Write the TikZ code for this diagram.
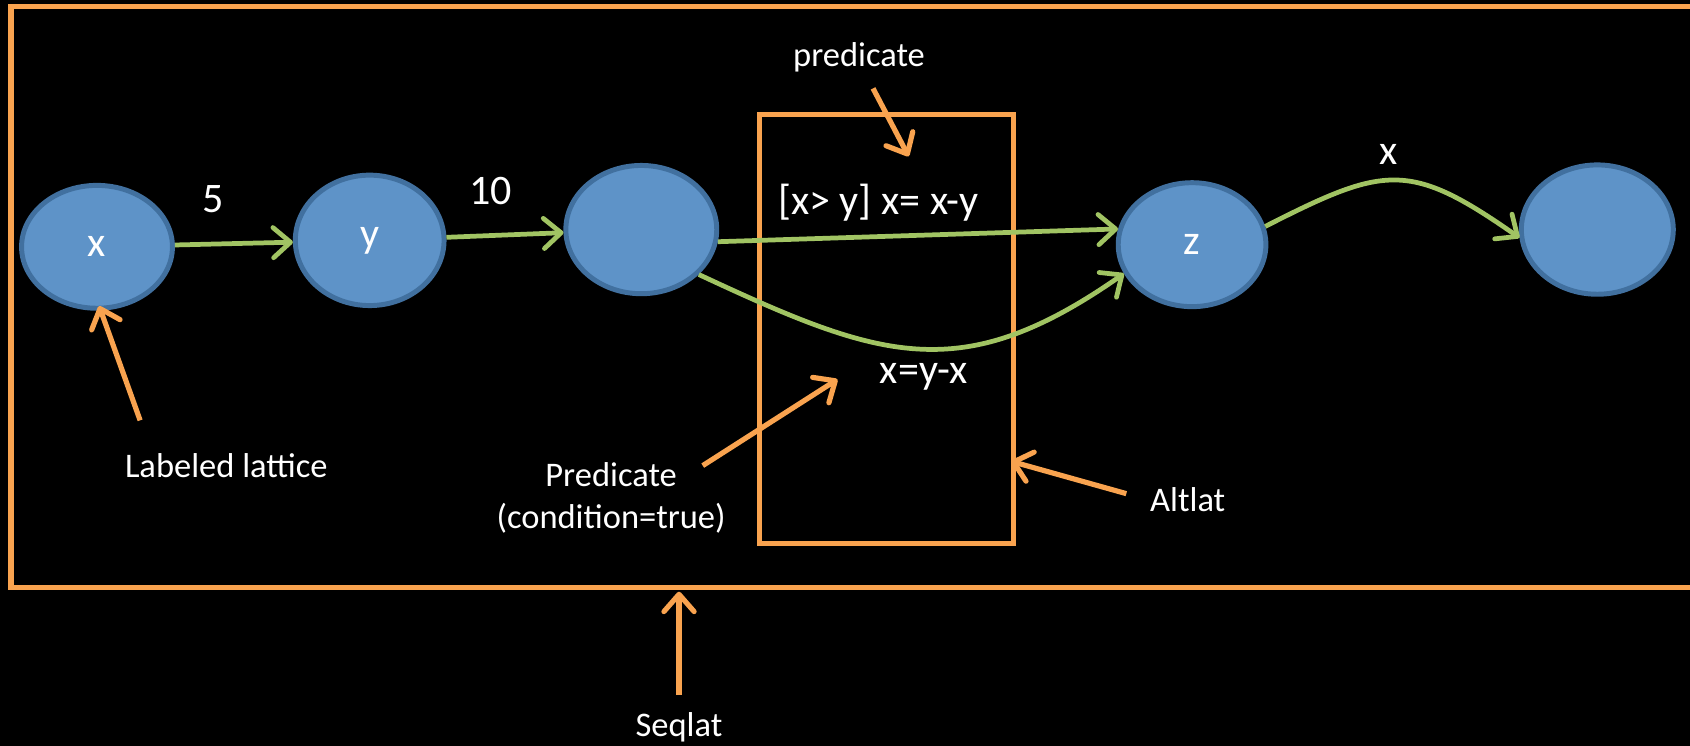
\documentclass[tikz,border=0pt]{standalone}
\usepackage{fontspec}
\setmainfont{Carlito}
\usetikzlibrary{shapes.geometric,arrows.meta}
\definecolor{orng}{HTML}{F9A34F}
\definecolor{grn}{HTML}{A1C463}
\definecolor{bfill}{HTML}{5E93C8}
\definecolor{bline}{HTML}{41709F}
\tikzset{
  lat/.style={ellipse, fill=bfill, draw=bline, line width=2.3pt, minimum width=70pt, minimum height=59pt, inner sep=0pt, text=white, font=\fontsize{19.5}{23}\selectfont},
  big/.style={text=white, font=\fontsize{19.5}{23}\selectfont, inner sep=0pt},
  small/.style={text=white, font=\fontsize{16}{19.5}\selectfont, inner sep=0pt, align=center},
  flow/.style={draw=grn, line width=2.2pt, -{Straight Barb[length=8pt,width=14pt,line cap=round,line join=round]}},
  note/.style={draw=orng, line width=2.4pt, -{Straight Barb[length=8pt,width=14pt,line cap=round,line join=round]}},
  frame/.style={draw=orng, line width=2.6pt},
}
\begin{document}
\begin{tikzpicture}[x=0.5pt,y=-0.5pt]
\fill[black] (0,0) rectangle (1568,692);
\useasboundingbox (0,0) rectangle (1568,692);
\clip (0,0) rectangle (1568,692);

% outer frame (Seqlat)
\draw[frame] (10,6) rectangle (1610,545);
% inner box (Altlat)
\node[draw=orng, line width=2.2pt, minimum width=117.5pt, minimum height=199pt, inner sep=0pt] (alt) at (822.5,305) {};

% lattice nodes
\node[lat, minimum height=57pt] (x) at (90,229) {x};
\node[lat, minimum width=69pt, minimum height=60.5pt] (y) at (343,223) {y};
\node[lat, minimum height=59.5pt] (n3) at (595,213) {};
\node[lat, minimum width=68.5pt, minimum height=57.5pt] (z) at (1106,227) {z};
\node[lat, minimum width=70.5pt, minimum height=60pt] (last) at (1482,213) {};

% flow edges
\draw[flow] (x) -- (y);
\draw[flow] (y) -- (n3);
\draw[flow] (n3.-9) -- (z.168);
\draw[flow] (n3.-38) to[out=-25, in=215, looseness=1.2] (z.203);
\draw[flow] (z.14) to[out=27, in=145, looseness=1.35] (last.186);

% edge labels
\node[big] (l5) at (198,185) {5};
\node[big] (l10) at (455,177) {10};
\node[big] (lx) at (1288,143) {x};
\node[big] (p1) at (815,188) {[x> y] x= x-y};
\node[big] (p2) at (857,350) {x=y-x};

% annotations
\node[small] (tpred) at (797,53) {predicate};
\node[small] (tlab) at (210,432) {Labeled lattice};
\node[small] (tcond) at (567,462) {Predicate\\(condition=true)};
\node[small] (talt) at (1102,464) {Altlat};
\node[small] (tseq) at (630,675) {Seqlat};

\coordinate (a1) at (810,82);
\coordinate (h1) at (843,145);
\coordinate (a2) at (130,390);
\coordinate (h2) at (92,284);
\coordinate (a3) at (652,432);
\coordinate (h3) at (777,352);
\coordinate (a4) at (1045,458);
\coordinate (h4) at (938,428);
\coordinate (a5) at (630,645);
\coordinate (h5) at (630,549);

\draw[note] (a1) -- (h1);
\draw[note] (a2) -- (h2);
\draw[note] (a3) -- (h3);
\draw[note] (a4) -- (h4);
\draw[note] (a5) -- (h5);
\end{tikzpicture}
\end{document}
